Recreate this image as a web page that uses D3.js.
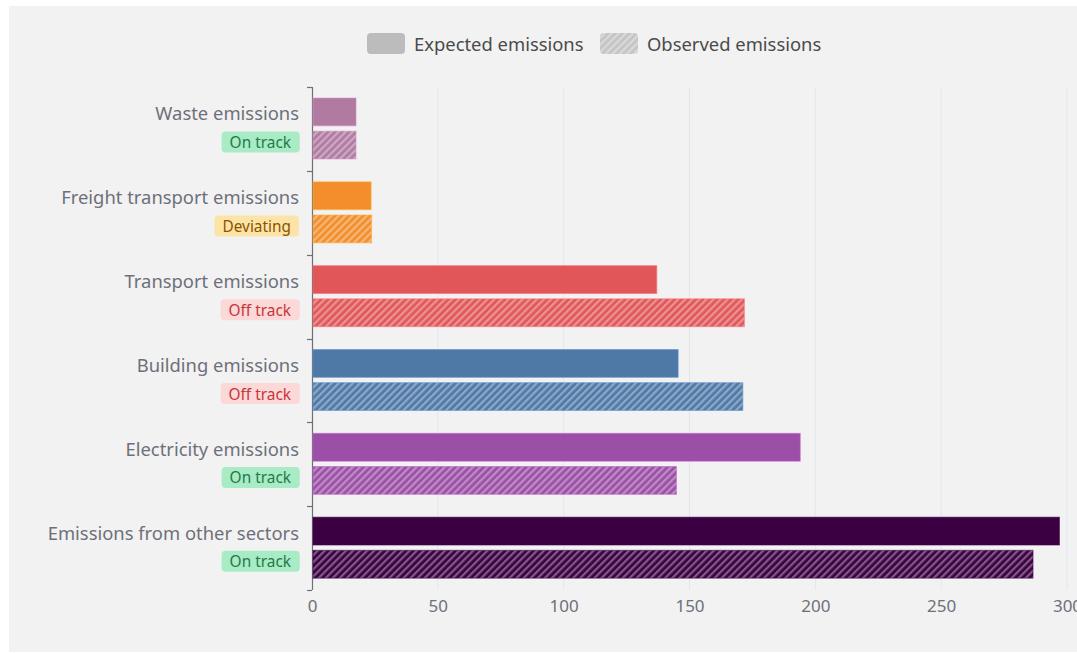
<!DOCTYPE html>
<html>
<head>
<meta charset="utf-8">
<script src="https://cdn.jsdelivr.net/npm/d3@7"></script>
<style>
  html, body { margin: 0; padding: 0; background: #ffffff; }
  svg { display: block; }
  text { font-family: "Noto Sans", "Open Sans", sans-serif; }
</style>
</head>
<body>
<svg id="chart" width="1077" height="653"></svg>
<script>
// ---- data ----
const categories = ["Waste emissions", "Freight transport emissions", "Transport emissions",
                    "Building emissions", "Electricity emissions", "Emissions from other sectors"];
const expected = [17.5, 23.5, 137, 145.5, 194, 297];
const observed = [17.5, 23.7, 171.8, 171.2, 144.8, 286.5];
const statuses = ["On track", "Deviating", "Off track", "Off track", "On track", "On track"];
const colors = ["#b07aa1", "#f28e2b", "#e15759", "#4e79a7", "#9b4fa6", "#3a0042"];
const seriesNames = ["Expected emissions", "Observed emissions"];
const xTicks = [0, 50, 100, 150, 200, 250, 300];

const statusStyle = {
  "On track": { bg: "#a9ebc5", fg: "#1e7a48" },
  "Deviating": { bg: "#fce4a6", fg: "#8a5300" },
  "Off track": { bg: "#fdd8d8", fg: "#c2373a" }
};

const svg = d3.select("#chart");
const W = 1077, H = 653;

// panel background
svg.append("rect").attr("x", 9).attr("y", 6).attr("width", W - 9).attr("height", H - 6 - 1)
  .attr("fill", "#f2f2f2");

const defs = svg.append("defs");
function hatch(id, color) {
  const p = defs.append("pattern").attr("id", id).attr("patternUnits", "userSpaceOnUse")
    .attr("width", 5).attr("height", 5).attr("patternTransform", "rotate(45)");
  p.append("rect").attr("width", 5).attr("height", 5).attr("fill", color);
  p.append("rect").attr("width", 2.3).attr("height", 5).attr("fill", "#ffffff").attr("fill-opacity", 0.35);
}
colors.forEach((c, i) => hatch("hatch" + i, c));
hatch("hatchLegend", "#c4c4c4");

const x = d3.scaleLinear().domain([0, 300]).range([312, 1067]);
const y = d3.scaleBand().domain(categories).range([87, 590]).padding(0);
const y1 = d3.scaleBand().domain(seriesNames).range([11, 72]).paddingInner(0.16).paddingOuter(0);

// grid lines
svg.append("g").selectAll("line").data(xTicks.filter(d => d > 0)).join("line")
  .attr("x1", d => x(d)).attr("x2", d => x(d))
  .attr("y1", 87).attr("y2", 590)
  .attr("stroke", "#e0e6f1").attr("stroke-width", 1);

// x axis labels
const xAxis = d3.axisBottom(x).tickValues(xTicks).tickSize(0).tickPadding(10);
const gx = svg.append("g").attr("transform", "translate(0,590)").call(xAxis);
gx.select(".domain").remove();
gx.selectAll("text").attr("fill", "#6e7079").style("font-size", "17px")
  .style("font-family", '"Noto Sans", "Open Sans", sans-serif');

// y axis
const yAxis = d3.axisLeft(y).tickSize(0).tickFormat("");
const gy = svg.append("g").attr("transform", "translate(312,0)").call(yAxis);
gy.select(".domain").attr("stroke", "#6e7079").attr("stroke-width", 1.2)
  .attr("d", "M0.5,87V590");
// band boundary ticks
const bounds = categories.map(c => y(c)).concat([y(categories[categories.length - 1]) + y.bandwidth()]);
gy.append("g").selectAll("line").data(bounds).join("line")
  .attr("x1", -5).attr("x2", 0).attr("y1", d => Math.round(d) + 0.5).attr("y2", d => Math.round(d) + 0.5)
  .attr("stroke", "#6e7079").attr("stroke-width", 1.2);

// bars
const groups = svg.append("g").selectAll("g").data(categories).join("g")
  .attr("transform", d => `translate(0,${y(d)})`);

groups.append("rect")
  .attr("x", x(0) + 1).attr("y", y1(seriesNames[0]))
  .attr("width", (d, i) => x(expected[i]) - x(0) - 1).attr("height", y1.bandwidth())
  .attr("fill", (d, i) => colors[i])
  .attr("stroke", (d, i) => d3.color(colors[i]).brighter(0.6)).attr("stroke-opacity", 0.6).attr("stroke-width", 1);

groups.append("rect")
  .attr("x", x(0) + 1).attr("y", y1(seriesNames[1]))
  .attr("width", (d, i) => x(observed[i]) - x(0) - 1).attr("height", y1.bandwidth())
  .attr("fill", (d, i) => `url(#hatch${i})`)
  .attr("stroke", (d, i) => d3.color(colors[i]).brighter(0.6)).attr("stroke-opacity", 0.6).attr("stroke-width", 1);

// category labels
groups.append("text")
  .attr("x", 299).attr("y", y1(seriesNames[0]) + y1.bandwidth() / 2 + 1)
  .attr("text-anchor", "end").attr("dominant-baseline", "central")
  .attr("fill", "#6e7079").style("font-size", "18.4px")
  .text(d => d);

// status badges
groups.each(function (d, i) {
  const g = d3.select(this);
  const st = statusStyle[statuses[i]];
  const cy = y1(seriesNames[1]) + y1.bandwidth() / 2 - 3;
  const t = g.append("text")
    .attr("x", 291).attr("y", cy + 0.5)
    .attr("text-anchor", "end").attr("dominant-baseline", "central")
    .attr("fill", st.fg).style("font-size", "15.4px")
    .text(statuses[i]);
  const bb = t.node().getBBox();
  g.insert("rect", "text")
    .attr("x", bb.x - 8).attr("y", cy - 10.5)
    .attr("width", bb.width + 16).attr("height", 21)
    .attr("rx", 4).attr("fill", st.bg);
});

// legend
const legend = svg.append("g");
const legendItems = [
  { name: seriesNames[0], fill: "#bcbcbc", x: 367 },
  { name: seriesNames[1], fill: "url(#hatchLegend)", x: 600 }
];
legendItems.forEach(it => {
  legend.append("rect").attr("x", it.x).attr("y", 33).attr("width", 38).attr("height", 21)
    .attr("rx", 4).attr("fill", it.fill);
  legend.append("text").attr("x", it.x + 47).attr("y", 43)
    .attr("dominant-baseline", "central").attr("fill", "#4a4a4a").style("font-size", "18.4px")
    .text(it.name);
});
</script>
</body>
</html>
